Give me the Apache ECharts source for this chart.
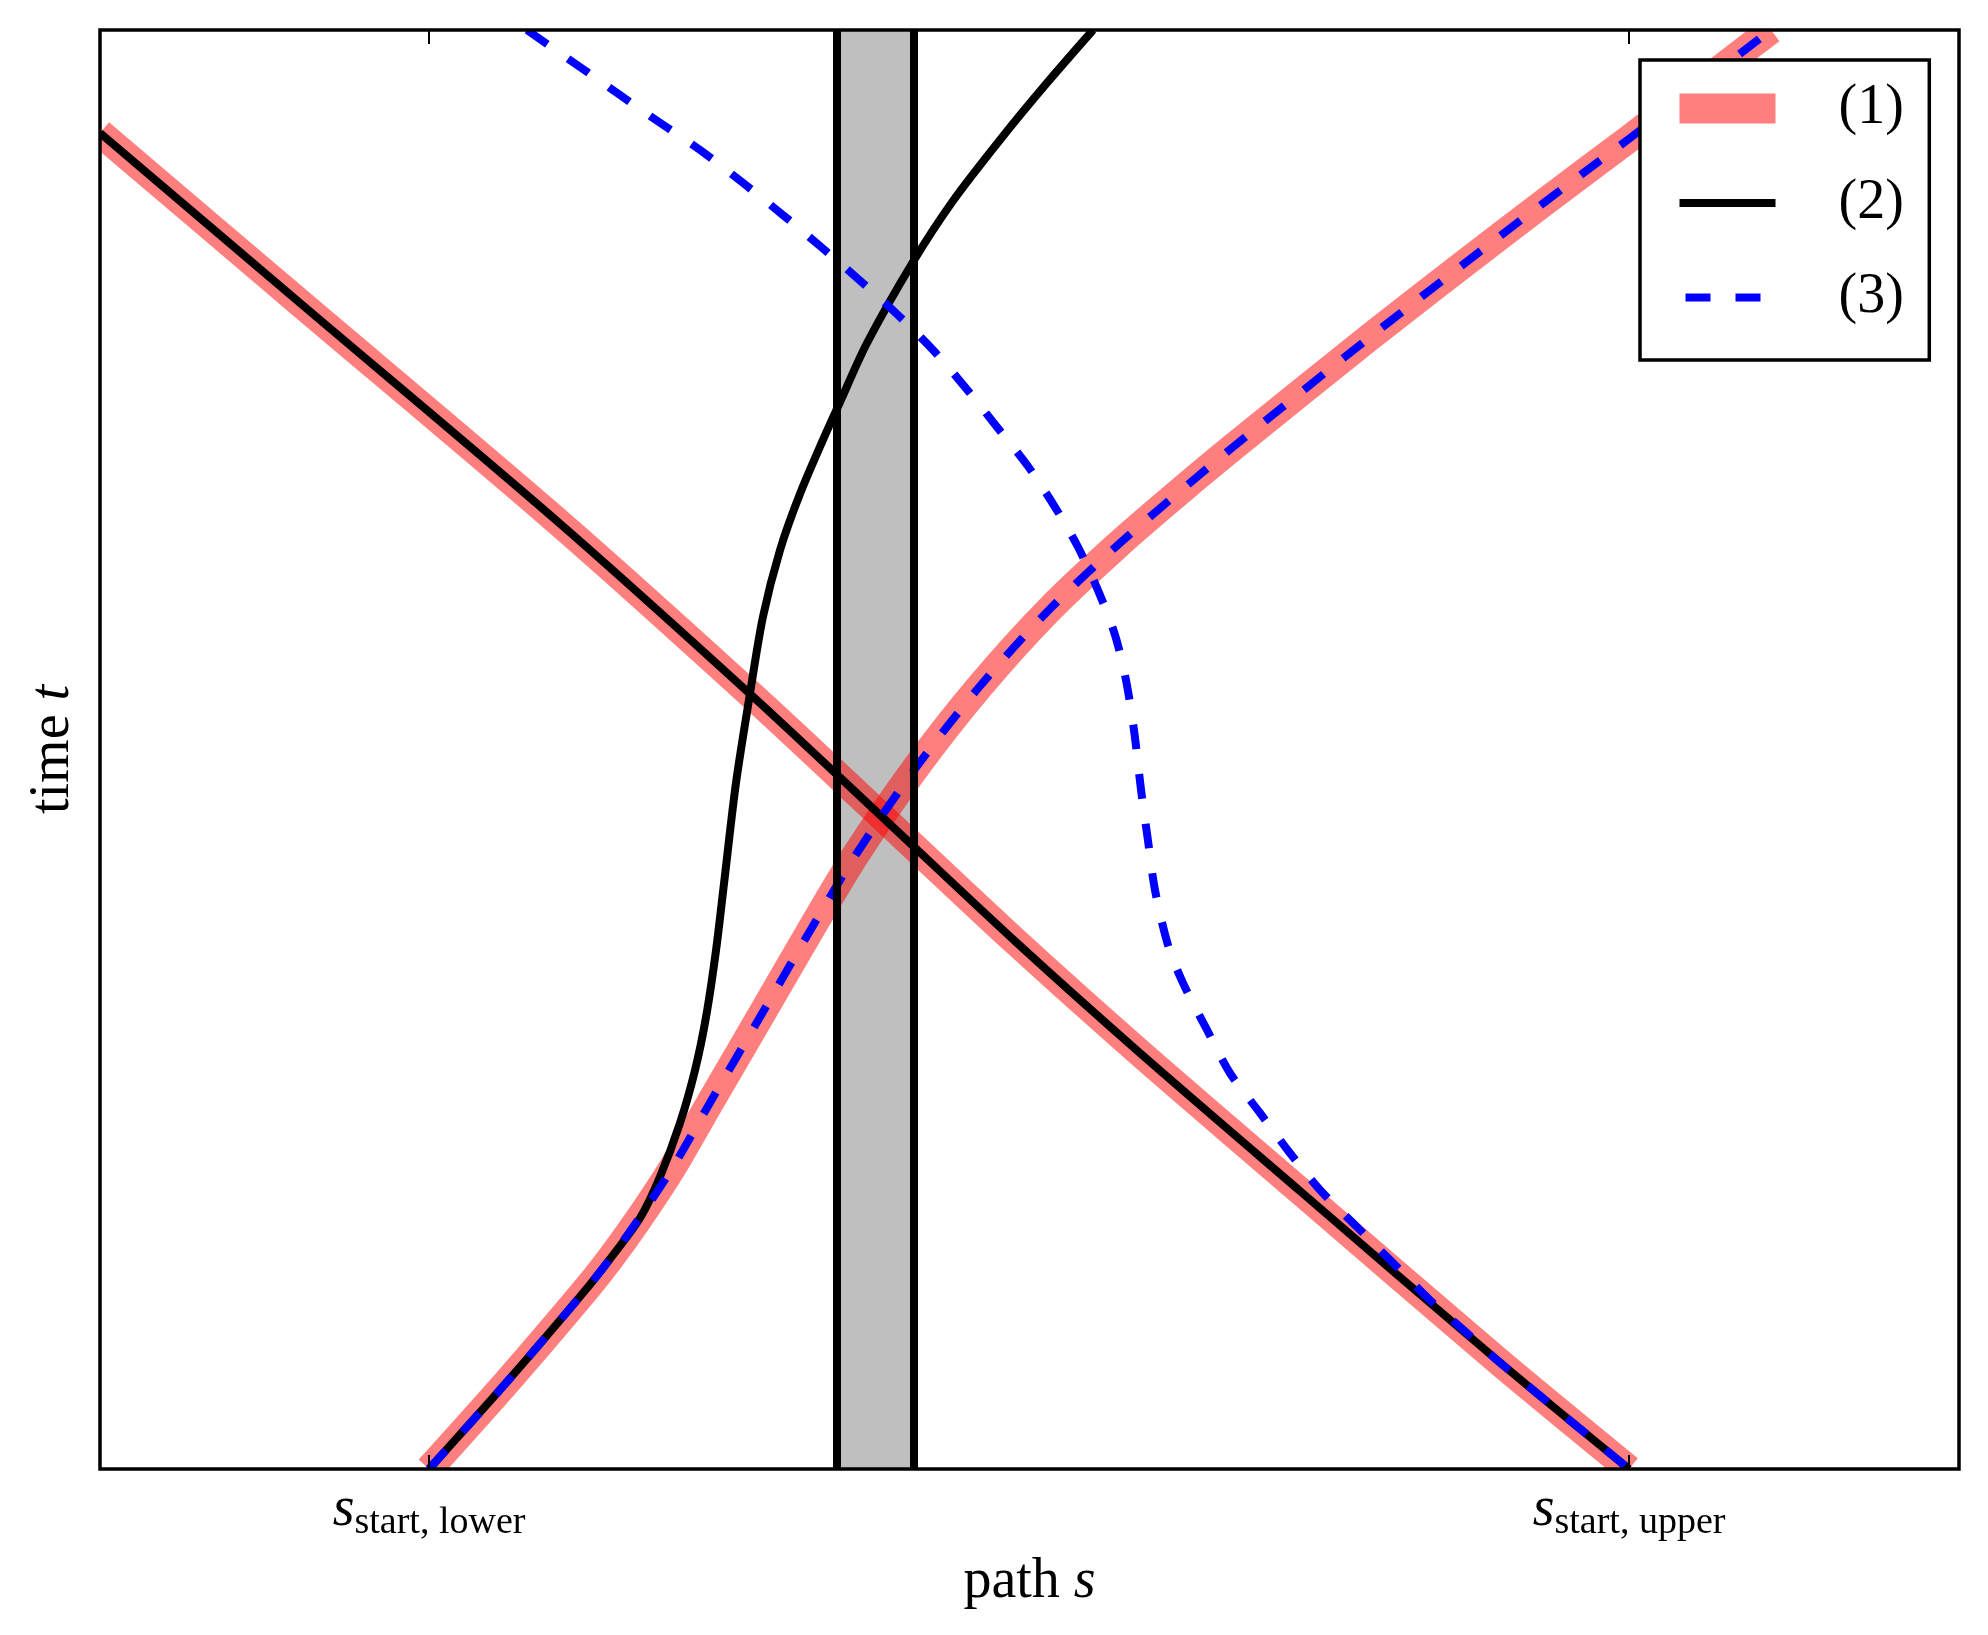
<!DOCTYPE html>
<html><head><meta charset="utf-8">
<script src="https://cdn.jsdelivr.net/npm/echarts@6/dist/echarts.min.js"></script>
<style>html,body{margin:0;padding:0;background:#fff}#c{width:1988px;height:1635px}</style>
</head><body><div id="c"></div>
<script>
// ---- data (path s on x, time t on y; both in arbitrary 0..100 units) ----
const tickValues = [17.70, 82.25];
const tickLabels = ['start, lower', 'start, upper'];
const bandEdges = [39.64, 43.80];
const legendNames = ['(1)', '(2)', '(3)'];

// trajectory falling from upper left to lower right
const pathA = [[0,92.84],[10.76,81.03],[24.58,65.88],[34.97,53.86],[41.96,45.45],
  [49.33,36.55],[55.94,28.91],[64.55,19.32],[75.15,7.57],[82.25,0]];
// trajectory rising from s_start,lower
const pathB = [[17.70,0],[21.89,6.05],[25.98,12.23],[27.43,14.59],[29.05,17.51],[30.82,20.99],[32.65,25.09],
  [35.66,31.76],[38.19,37.39],[40.72,42.81],[43.95,48.85],[47.34,54.41],[50.94,59.56],[54.87,64.35],
  [59.01,68.94],[60.95,71.02],[68.32,78.67],[75.31,85.68],[80.15,90.41],[82.30,92.49],[88.76,98.89],[89.89,100]];
// (2) second branch: leaves pathB and climbs steeply
const blackSteep = [[17.70,0],[21.89,6.05],[25.98,12.23],[27.43,14.59],[29.05,17.44],[30.12,20.29],[31.20,24.04],
  [32.01,27.73],[32.60,31.41],[33.14,36.07],[33.57,40.72],[34.21,47.67],[34.97,53.93],[35.66,59.21],
  [36.58,63.86],[37.65,67.75],[38.89,71.51],[39.81,74.15],[41.26,78.25],[43.73,83.88],[45.88,88.12],
  [48.41,92.36],[50.94,96.32],[53.42,100]];
// (3) second branch: S-shaped descent joining pathA
const blueS = [[22.97,100],[26.36,96.94],[29.59,94.02],[32.28,91.66],[34.59,89.37],[36.74,87.14],
  [38.73,84.99],[40.72,82.77],[42.87,80.26],[44.81,77.76],[46.80,74.77],[48.25,72.41],[49.87,69.77],
  [51.37,66.85],[52.61,64.07],[53.68,61.08],[54.60,57.96],[55.19,54.83],[55.62,51.36],[56.00,47.19],
  [56.37,43.71],[56.75,40.24],[57.45,36.41],[58.26,33.77],[59.55,30.51],[60.78,27.52],[62.40,24.74],
  [64.01,21.96],[65.63,19.39],[67.62,16.82],[69.55,14.32],[71.54,11.74],[73.53,9.45],[75.15,7.57],[82.25,0]];

// ---- layout / style ----
const W = 1988, H = 1635;
const G = {left: 100, top: 30, right: 1959, bottom: 1469};
const serif = 'Liberation Serif';
const FS = 56, FS_SUB = 38;
const RED = 'rgba(255,0,0,0.5)', BLACK = '#000000', BLUE = '#0000ff';
const DASH = [25, 25];
const NOSYM = {color: 'rgba(0,0,0,0)', borderWidth: 0, opacity: 0};

function richName() {
  return {
    r: {fontFamily: serif, fontSize: FS, color: '#000'},
    i: {fontFamily: serif, fontSize: FS, fontStyle: 'italic', color: '#000'}
  };
}

const chart = echarts.init(document.getElementById('c'), null, {renderer: 'canvas'});

function lineSeries(name, data, color, width, type, z) {
  return {
    name, type: 'line', data, z, symbol: 'none', showSymbol: false,
    smooth: 0.3, animation: false, silent: true,
    itemStyle: {color},
    lineStyle: {color, width, type, cap: 'butt', join: 'round'}
  };
}

const option = {
  backgroundColor: '#fff',
  animation: false,
  grid: {left: G.left, top: G.top, right: W - G.right, bottom: H - G.bottom, containLabel: false},
  xAxis: [{
    type: 'value', min: 0, max: 100, position: 'bottom', z: 10,
    axisLine: {show: false}, splitLine: {show: false},
    axisTick: {show: true, inside: true, length: 14, lineStyle: {color: '#000', width: 2}, customValues: tickValues},
    axisLabel: {
      show: true, customValues: tickValues, margin: 9,
      formatter: function (v) {
        let k = 0, best = Infinity;
        tickValues.forEach((t, j) => { if (Math.abs(t - v) < best) { best = Math.abs(t - v); k = j; } });
        return '{s|s}{sub|' + tickLabels[k] + '}';
      },
      rich: {
        s: {fontFamily: serif, fontStyle: 'italic', fontSize: FS, lineHeight: 64, color: '#000', verticalAlign: 'middle'},
        sub: {fontFamily: serif, fontSize: FS_SUB, lineHeight: 34, color: '#000', verticalAlign: 'bottom'}
      }
    },
    name: '{r|path }{i|s}', nameLocation: 'middle', nameGap: 85,
    nameTextStyle: {rich: richName()}
  }, {
    type: 'value', min: 0, max: 100, position: 'top', z: 10,
    axisLine: {show: false}, splitLine: {show: false},
    axisTick: {show: true, inside: true, length: 14, lineStyle: {color: '#000', width: 2}, customValues: tickValues},
    axisLabel: {show: false}
  }],
  yAxis: {
    type: 'value', min: 0, max: 100, z: 10,
    axisLine: {show: false}, axisTick: {show: false}, axisLabel: {show: false}, splitLine: {show: false},
    name: '{r|time }{i|t}', nameLocation: 'middle', nameGap: 19,
    nameTextStyle: {rich: richName()}
  },
  legend: {
    orient: 'vertical', left: 1640, top: 60, z: 20, selectedMode: false,
    itemWidth: 96, itemHeight: 33, itemGap: 38.5,
    padding: [20.5, 25.5, 34.5, 24.5],
    backgroundColor: '#fff', borderColor: '#000', borderWidth: 3.5, borderRadius: 0,
    textStyle: {fontFamily: serif, fontSize: FS, lineHeight: 56, color: '#000', padding: [0, 0, 0, 58]},
    data: [
      {name: legendNames[0], itemStyle: NOSYM, lineStyle: {color: RED, width: 30, type: 'solid'}},
      {name: legendNames[1], itemStyle: NOSYM, lineStyle: {color: BLACK, width: 8, type: 'solid'}},
      {name: legendNames[2], itemStyle: NOSYM, lineStyle: {color: BLUE, width: 8, type: DASH, dashOffset: 44}}
    ]
  },
  graphic: [
    {type: 'rect', z: 5, silent: true, shape: {x: 0, y: 0, width: W, height: G.top}, style: {fill: '#fff'}},
    {type: 'rect', z: 5, silent: true, shape: {x: 0, y: G.bottom, width: W, height: H - G.bottom}, style: {fill: '#fff'}},
    {type: 'rect', z: 5, silent: true, shape: {x: 0, y: 0, width: G.left, height: H}, style: {fill: '#fff'}},
    {type: 'rect', z: 5, silent: true, shape: {x: G.right, y: 0, width: W - G.right, height: H}, style: {fill: '#fff'}},
    {type: 'rect', z: 6, silent: true, shape: {x: G.left, y: G.top, width: G.right - G.left, height: G.bottom - G.top},
      style: {fill: 'none', stroke: '#000', lineWidth: 3.5}}
  ],
  series: [
    {
      type: 'line', data: [], z: 1, silent: true, animation: false,
      markArea: {silent: true, itemStyle: {color: '#bfbfbf'}, data: [[{xAxis: bandEdges[0]}, {xAxis: bandEdges[1]}]]},
      markLine: {silent: true, symbol: ['none', 'none'], label: {show: false}, animation: false,
        lineStyle: {color: '#000', width: 8, type: 'solid'},
        data: [{xAxis: bandEdges[0]}, {xAxis: bandEdges[1]}]}
    },
    lineSeries(legendNames[0], pathA, RED, 28, 'solid', 2),
    lineSeries(legendNames[0], pathB, RED, 28, 'solid', 2),
    lineSeries(legendNames[1], pathA, BLACK, 8, 'solid', 3),
    lineSeries(legendNames[1], blackSteep, BLACK, 8, 'solid', 3),
    lineSeries(legendNames[2], pathB, BLUE, 8, DASH, 4),
    lineSeries(legendNames[2], blueS, BLUE, 8, DASH, 4)
  ]
};
chart.setOption(option);
</script>
</body></html>
